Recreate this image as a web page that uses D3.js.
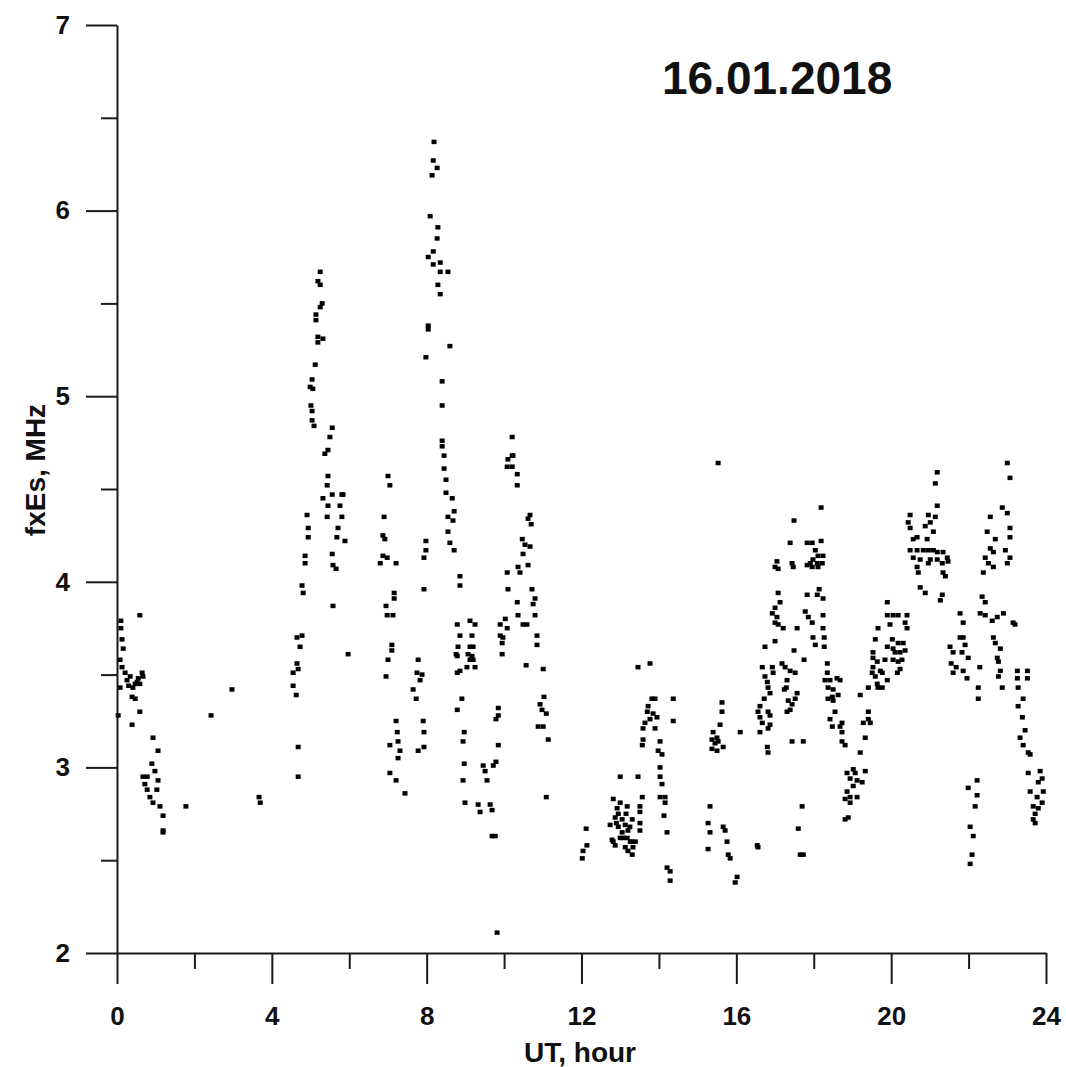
<!DOCTYPE html>
<html>
<head>
<meta charset="utf-8">
<script src="https://cdn.jsdelivr.net/npm/d3@7"></script>
<style>
  body { margin: 0; background: #fff; }
  svg text { font-family: "Liberation Sans", Arial, sans-serif; font-weight: bold; fill: #111; }
</style>
</head>
<body>
<svg id="chart" width="1066" height="1067"></svg>
<script>
// fxEs readings [UT hour, MHz], split by time of day
var seg00 = [[0.10,3.79],[0.10,3.75],[0.13,3.69],[0.16,3.64],[0.08,3.58],[0.13,3.54],[0.21,3.51],[0.34,3.49],[0.65,3.51],[0.67,3.49],[0.52,3.46],[0.41,3.43],[0.59,3.45],[0.08,3.43],[0.39,3.38],[0.47,3.37],[0.03,3.28],[0.59,3.30],[0.39,3.23],[0.59,3.82],[0.26,3.47],[0.47,3.45],[0.55,3.48],[0.30,3.44],
  [0.93,3.16],[1.06,3.09],[0.90,3.02],[0.98,2.98],[0.67,2.95],[0.78,2.95],[1.06,2.93],[0.72,2.91],[0.78,2.88],[1.03,2.88],[0.85,2.84],[0.93,2.81],[1.11,2.79],[1.19,2.74],[1.19,2.66],[1.19,2.65],
  [1.78,2.79],[2.43,3.28],[2.97,3.42],[3.67,2.84],[3.70,2.81]];

var seg04 = [[5.25,5.67],[5.19,5.62],[5.25,5.60],[5.30,5.50],[5.25,5.48],[5.14,5.44],[5.14,5.41],[5.19,5.32],[5.32,5.31],[5.19,5.29],[5.12,5.17],[5.04,5.09],[5.06,5.04],[4.99,5.05],[5.01,4.95],[5.04,4.92],[5.04,4.87],[5.09,4.84],[5.56,4.83],[5.50,4.78],[5.45,4.71],[5.37,4.69],[5.45,4.57],[5.43,4.52],[5.56,4.47],[5.81,4.47],[5.84,4.47],[5.32,4.45],[5.45,4.41],[5.76,4.41],[4.91,4.36],[5.43,4.35],[5.81,4.35],[4.94,4.29],[5.71,4.29],[4.94,4.24],[5.68,4.24],[5.89,4.22],[4.86,4.14],[5.56,4.15],[4.86,4.10],[5.58,4.09],[5.66,4.07],[4.78,3.98],[4.81,3.94],[5.58,3.87],[4.65,3.70],[4.78,3.71],[4.73,3.65],[5.97,3.61],[4.65,3.56],[4.68,3.53],[4.55,3.51],[4.55,3.44],[4.63,3.39],[4.68,3.11],[4.68,2.95]];

var seg07 = [[7.00,4.57],[7.05,4.52],[6.90,4.35],[6.87,4.25],[6.92,4.23],[6.87,4.14],[6.98,4.13],[6.80,4.10],[7.21,4.10],[7.16,3.94],[7.16,3.91],[6.95,3.87],[6.98,3.82],[7.13,3.82],[7.10,3.66],[7.10,3.63],[7.00,3.58],[6.95,3.49],[7.21,3.25],[7.24,3.19],[7.26,3.14],[7.05,3.12],[7.31,3.09],[7.26,3.05],[7.05,2.97],[7.21,2.93],[7.44,2.86],
  [7.78,3.58],[7.75,3.51],[7.88,3.50],[7.83,3.47],[7.65,3.42],[7.73,3.37],[7.91,3.25],[7.93,3.19],[7.93,3.11],[7.78,3.09],[7.98,4.22],[7.98,4.17],[7.93,4.13],[7.93,3.96]];

var seg08 = [[8.19,6.37],[8.17,6.27],[8.27,6.23],[8.14,6.19],[8.09,5.97],[8.29,5.91],[8.27,5.85],[8.17,5.78],[8.04,5.75],[8.17,5.71],[8.35,5.72],[8.35,5.67],[8.55,5.67],[8.29,5.60],[8.35,5.55],[8.04,5.38],[8.04,5.36],[8.60,5.27],[7.98,5.21],[8.40,5.08],[8.40,4.95],[8.40,4.76],[8.40,4.73],[8.45,4.68],[8.45,4.61],[8.50,4.55],[8.50,4.48],[8.66,4.45],[8.71,4.38],[8.55,4.35],[8.68,4.33],[8.55,4.27],[8.60,4.21],[8.71,4.17],[8.86,4.03],[8.86,3.98],
  [9.12,3.79],[9.25,3.77],[8.79,3.77],[8.86,3.71],[9.17,3.71],[8.81,3.65],[9.12,3.65],[9.20,3.65],[8.79,3.60],[9.12,3.58],[9.20,3.58],[8.86,3.52],[9.04,3.54],[9.25,3.54],[8.76,3.61],[9.07,3.61],[9.17,3.60],[8.79,3.51],[8.91,3.37],[8.79,3.31],[8.97,3.19],[8.94,3.14],[8.97,3.02],[8.94,2.93],[8.99,2.81]];

var seg10 = [[10.21,4.78],[10.21,4.68],[10.10,4.66],[10.23,4.68],[10.08,4.62],[10.21,4.62],[10.34,4.58],[10.34,4.52],[10.67,4.36],[10.62,4.34],[10.70,4.31],[10.47,4.23],[10.54,4.20],[10.67,4.19],[10.49,4.15],[10.36,4.08],[10.62,4.09],[10.41,4.05],[10.08,4.05],[10.10,3.96],[10.72,3.96],[10.34,3.89],[10.80,3.91],[10.75,3.88],[10.80,3.82],[10.36,3.82],[10.49,3.77],[10.59,3.77],[10.03,3.80],[9.90,3.77],[10.08,3.75],[9.90,3.71],[9.97,3.70],[9.95,3.67],[9.95,3.61],[10.85,3.71],[10.85,3.66],[10.57,3.55],[11.01,3.53],
  [9.85,3.32],[9.85,3.28],[9.79,3.26],[9.85,3.12],[9.46,3.01],[9.51,2.98],[9.79,3.03],[9.72,3.01],[9.56,2.93],[9.33,2.80],[9.38,2.76],[9.64,2.80],[9.69,2.77],[9.69,2.63],[9.77,2.63],[9.82,2.11],
  [11.03,3.38],[10.93,3.34],[10.98,3.31],[11.09,3.29],[10.88,3.22],[11.01,3.22],[11.14,3.15],[11.09,2.84]];

var seg12 = [[12.12,2.67],[12.14,2.58],[12.04,2.55],[12.02,2.51],
  [13.46,3.54],[13.77,3.56],[13.82,3.37],[13.90,3.37],[14.37,3.37],[13.72,3.33],[13.70,3.30],[13.85,3.29],[13.95,3.27],[13.77,3.26],[13.64,3.24],[13.59,3.21],[13.90,3.21],[14.37,3.25],[13.59,3.15],[13.57,3.12],[14.03,3.14],[13.98,3.09],[14.08,3.07],[14.03,3.00],
  [13.00,2.95],[13.46,2.95],[14.03,2.95],[14.08,2.91],[13.57,2.84],[14.03,2.84],[14.16,2.84],[14.16,2.81],[12.82,2.83],[13.00,2.81],[13.18,2.79],[12.92,2.78],[13.51,2.79],[13.51,2.76],[12.95,2.75],[12.87,2.73],[13.05,2.72],[13.31,2.72],[12.74,2.69],[12.95,2.68],[13.13,2.69],[13.20,2.66],[13.51,2.70],[13.51,2.66],[14.13,2.74],[13.18,2.62],[13.26,2.60],[13.08,2.62],[12.82,2.60],[12.79,2.61],[12.87,2.58],[13.31,2.60],[13.39,2.60],[13.13,2.57],[13.20,2.55],[13.33,2.57],[13.31,2.53],[12.90,2.70],[13.05,2.65],[13.25,2.68],[13.00,2.62],[13.15,2.75],
  [14.21,2.65],[14.21,2.46],[14.29,2.44],[14.29,2.39]];

var seg15 = [[15.53,4.64],[15.63,3.35],[15.63,3.30],[15.58,3.23],[15.40,3.19],[15.50,3.16],[15.37,3.15],[15.45,3.13],[15.53,3.14],[15.37,3.10],[15.50,3.09],[15.66,3.11],[16.10,3.19],[15.32,2.79],[15.27,2.70],[15.32,2.65],[15.27,2.56],[15.66,2.68],[15.71,2.66],[15.76,2.60],[15.79,2.53],[15.84,2.51],[16.02,2.41],[15.97,2.38],[16.54,2.58],[16.56,2.57]];

var seg17 = [[16.74,3.65],[17.00,3.68],[16.67,3.54],[16.93,3.54],[16.95,3.51],[16.74,3.49],[16.80,3.46],[16.82,3.43],[16.87,3.40],[16.72,3.37],[16.61,3.33],[16.56,3.30],[16.61,3.27],[16.67,3.24],[16.82,3.30],[16.87,3.28],[16.87,3.23],[16.82,3.21],[16.61,3.19],[16.80,3.11],[16.82,3.08],
  [17.18,3.56],[17.26,3.54],[17.39,3.52],[17.52,3.51],[17.31,3.47],[17.29,3.43],[17.24,3.42],[17.57,3.40],[17.52,3.37],[17.34,3.36],[17.44,3.34],[17.39,3.31],[17.31,3.30],[17.44,3.14],[17.73,3.14],
  [17.08,3.94],[17.13,3.89],[17.00,3.86],[16.93,3.83],[17.05,3.81],[17.00,3.78],[17.08,3.77],[17.21,3.75],[17.05,4.11],[17.00,4.08],[17.08,4.07],[17.44,4.10],[17.47,4.08],[17.39,4.21],[17.49,4.33],[17.57,3.75],[17.49,3.63],[17.75,3.58],
  [17.83,4.21],[17.96,4.21],[18.19,4.22],[18.19,4.40],[18.04,4.17],[18.11,4.14],[18.24,4.14],[17.98,4.12],[17.91,4.10],[17.83,4.09],[18.09,4.10],[18.22,4.10],[17.96,4.08],[18.11,4.08],[17.83,3.93],[18.09,3.93],[18.14,3.96],[18.24,3.91],[17.78,3.84],[17.86,3.81],[17.96,3.78],[18.24,3.82],[18.24,3.75],[18.27,3.70],[17.98,3.70],[18.04,3.66],[18.27,3.65],
  [18.35,3.56],[18.35,3.51],[18.29,3.47],[18.42,3.47],[18.60,3.48],[18.68,3.47],[18.37,3.43],[18.50,3.42],[18.48,3.38],[18.63,3.39],[18.37,3.37],[18.50,3.36],[18.55,3.30],[18.42,3.26],[18.73,3.24],[18.48,3.22],[18.68,3.22],[18.73,3.19],[18.73,3.14],[18.81,3.12],
  [17.70,2.79],[17.60,2.67],[17.65,2.53],[17.73,2.53]];

var seg19 = [[18.86,2.97],[19.02,2.99],[19.07,2.97],[19.33,2.98],[18.94,2.94],[19.12,2.93],[19.25,2.92],[19.02,2.90],[18.86,2.87],[18.94,2.84],[19.12,2.84],[18.81,2.83],[18.94,2.81],[18.89,2.73],[18.81,2.72],
  [19.20,3.39],[19.41,3.30],[19.41,3.26],[19.28,3.24],[19.46,3.24],[19.33,3.16],[19.20,3.08],[19.53,3.54],[19.59,3.49],[19.51,3.51],[19.41,3.43],[19.64,3.45],[19.77,3.43],[19.66,3.43],[19.72,3.52],[19.64,3.57],[19.53,3.59],[19.59,3.69],[19.53,3.62],[19.90,3.65],[20.03,3.69],[20.05,3.64],[20.18,3.67],[20.10,3.62],[20.23,3.62],[20.05,3.58],[20.18,3.57],[20.23,3.53],[20.28,3.58],[20.36,3.63],[20.31,3.67],[19.84,3.58],[19.77,3.51],[19.90,3.47],[20.16,3.51],[19.90,3.89],[19.90,3.82],[20.05,3.82],[20.18,3.82],[20.41,3.82],[19.97,3.77],[20.36,3.78],[20.41,3.75],[19.66,3.75],
  [20.49,4.36],[20.44,4.32],[20.49,4.29],[20.96,4.36],[21.14,4.35],[21.01,4.32],[20.88,4.30],[21.09,4.27],[21.19,4.41],[21.14,4.53],[21.19,4.59],[20.57,4.23],[20.67,4.24],[20.93,4.23],[20.49,4.17],[20.67,4.17],[20.83,4.17],[20.96,4.17],[21.09,4.17],[21.19,4.16],[21.34,4.16],[21.45,4.13],[20.57,4.13],[20.75,4.12],[21.01,4.12],[21.19,4.12],[21.32,4.10],[21.47,4.11],[20.67,4.08],[20.70,4.05],[20.96,4.10],[21.34,4.05],[21.40,4.03],[20.75,3.97],[20.88,3.94],[21.32,3.93],[21.27,3.90]];

var seg22 = [[21.78,3.83],[21.86,3.78],[21.78,3.70],[21.86,3.70],[21.91,3.66],[21.52,3.65],[21.60,3.62],[21.83,3.62],[21.99,3.59],[21.55,3.56],[21.68,3.54],[21.60,3.51],[21.86,3.52],[21.96,3.48],[22.29,3.54],[22.25,3.43],[22.25,3.37],
  [22.22,2.93],[21.99,2.89],[22.22,2.85],[22.17,2.79],[22.04,2.68],[22.12,2.63],[22.09,2.53],[22.04,2.48],
  [23.00,4.64],[23.07,4.56],[22.87,4.40],[23.00,4.37],[22.56,4.35],[23.07,4.29],[23.07,4.24],[22.48,4.27],[22.69,4.23],[22.56,4.18],[22.95,4.17],[22.64,4.16],[23.07,4.13],[22.43,4.13],[22.51,4.10],[23.00,4.10],[22.38,4.05],[22.64,4.08],[22.35,3.92],[22.43,3.89],[22.30,3.83],[22.43,3.82],[22.61,3.79],[22.74,3.81],[22.90,3.83],[23.15,3.78],[23.20,3.77],[22.64,3.70],[22.69,3.67],[22.82,3.64],[22.74,3.59],[22.77,3.57],[22.82,3.52],[22.77,3.49],[22.87,3.43],
  [23.26,3.52],[23.52,3.52],[23.26,3.48],[23.52,3.48],[23.28,3.43],[23.41,3.37],[23.28,3.33],[23.39,3.27],[23.46,3.20],[23.33,3.16],[23.41,3.12],[23.54,3.08],[23.59,3.07],[23.54,2.97],[23.85,2.98],[23.90,2.94],[23.80,2.92],[23.59,2.87],[23.93,2.87],[23.77,2.84],[23.90,2.81],[23.67,2.79],[23.80,2.78],[23.72,2.75],[23.67,2.72],[23.72,2.70]];

var xMajor = [0, 4, 8, 12, 16, 20, 24];
var xMinor = [2, 6, 10, 14, 18, 22];
var yMajor = [2, 3, 4, 5, 6, 7];
var yMinor = [2.5, 3.5, 4.5, 5.5, 6.5];
var title = "16.01.2018";
var xTitle = "UT, hour";
var yTitle = "fxEs, MHz";

var svg = d3.select("#chart");

var x = d3.scaleLinear().domain([0, 24]).range([117, 1046]);
var y = d3.scaleLinear().domain([2, 7]).range([953, 25]);

var allPts = [].concat(seg00, seg04, seg07, seg08, seg10, seg12, seg15, seg17, seg19, seg22);

// points first, axes on top
svg.append("g").selectAll("rect")
  .data(allPts)
  .enter().append("rect")
  .attr("x", function(d) { return x(d[0]) - 2.5; })
  .attr("y", function(d) { return y(d[1]) - 2.25; })
  .attr("width", 5)
  .attr("height", 4.5)
  .style("fill", "#000");

function styleAxis(g) {
  g.selectAll("path").attr("stroke", "#1a1a1a").attr("stroke-width", 2);
  g.selectAll("line").attr("stroke", "#1a1a1a").attr("stroke-width", 2);
  g.selectAll("text").style("font-size", "26px").style("font-family", "'Liberation Sans', Arial, sans-serif").style("font-weight", "bold").attr("fill", "#111");
}

var gx = svg.append("g").attr("transform", "translate(0,953)")
  .call(d3.axisBottom(x).tickValues(xMajor).tickSize(31).tickSizeOuter(0).tickPadding(23).tickFormat(d3.format("d")));
styleAxis(gx);
var gxm = svg.append("g").attr("transform", "translate(0,953)")
  .call(d3.axisBottom(x).tickValues(xMinor).tickSize(16).tickSizeOuter(0).tickFormat(""));
styleAxis(gxm);
gxm.select("path").remove();

var gy = svg.append("g").attr("transform", "translate(117,0)")
  .call(d3.axisLeft(y).tickValues(yMajor).tickSize(31).tickSizeOuter(0).tickPadding(16).tickFormat(d3.format("d")));
styleAxis(gy);
var gym = svg.append("g").attr("transform", "translate(117,0)")
  .call(d3.axisLeft(y).tickValues(yMinor).tickSize(16).tickSizeOuter(0).tickFormat(""));
styleAxis(gym);
gym.select("path").remove();

svg.append("text")
  .attr("x", 662).attr("y", 94)
  .style("font-size", "46px")
  .text(title);

svg.append("text")
  .attr("x", 580).attr("y", 1062)
  .attr("text-anchor", "middle")
  .style("font-size", "28px")
  .text(xTitle);

svg.append("text")
  .attr("transform", "translate(45,470) rotate(-90)")
  .attr("text-anchor", "middle")
  .style("font-size", "28px")
  .text(yTitle);
</script>
</body>
</html>
